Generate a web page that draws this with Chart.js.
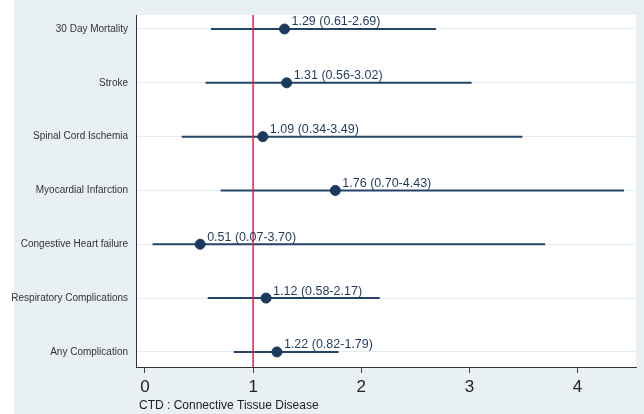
<!DOCTYPE html>
<html>
<head>
<meta charset="utf-8">
<script src="https://cdn.jsdelivr.net/npm/chart.js@4"></script>
<style>
  html, body { margin: 0; padding: 0; background: #ffffff; }
  #wrap { position: relative; width: 644px; height: 414px; }
</style>
</head>
<body>
<div id="wrap"><canvas id="forest"></canvas></div>
<script>
// Outcomes, odds ratios and 95% CI
const categories = [
    '30 Day Mortality',
    'Stroke',
    'Spinal Cord Ischemia',
    'Myocardial Infarction',
    'Congestive Heart failure',
    'Respiratory Complications',
    'Any Complication',
];
const oddsRatios = [1.29, 1.31, 1.09, 1.76, 0.51, 1.12, 1.22];
const lowerCI = [0.61, 0.56, 0.34, 0.70, 0.07, 0.58, 0.82];
const upperCI = [2.69, 3.02, 3.49, 4.43, 3.70, 2.17, 1.79];
const xTicks = [0, 1, 2, 3, 4];
const refValue = 1;
const footNote = 'CTD : Connective Tissue Disease';

const NAVY = '#234468';
const DOT = '#1c3a5e';
const RED = '#d9264f';
const PANEL = '#e8f0f4';
const FONT = '"Liberation Sans", Arial, sans-serif';

const Y_MIN = 0.74, Y_MAX = 7.28;

// CI whiskers, one little line per outcome
const ciSets = categories.map((c, i) => ({
    type: 'line',
    data: [{ x: lowerCI[i], y: i + 1 }, { x: upperCI[i], y: i + 1 }],
    borderColor: NAVY,
    borderWidth: 2,
    pointRadius: 0,
    order: 3,
}));

// red line at OR = 1, drawn over the whiskers
const refLine = {
    type: 'line',
    data: [{ x: refValue, y: Y_MIN }, { x: refValue, y: Y_MAX }],
    borderColor: RED,
    borderWidth: 1.5,
    pointRadius: 0,
    order: 2,
};

const points = {
    type: 'scatter',
    data: oddsRatios.map((v, i) => ({ x: v, y: i + 1 })),
    backgroundColor: DOT,
    borderColor: DOT,
    pointRadius: 5,
    order: 1,
};

const background = {
    id: 'background',
    beforeDraw(chart) {
        const { ctx, chartArea: a } = chart;
        ctx.save();
        ctx.fillStyle = PANEL;
        ctx.fillRect(14, 0, chart.width - 14, chart.height);
        ctx.fillStyle = '#ffffff';
        ctx.fillRect(a.left, a.top, a.right - a.left, a.bottom - a.top);
        ctx.restore();
    }
};

const valueLabels = {
    id: 'valueLabels',
    afterDatasetsDraw(chart) {
        const { ctx, scales: { x, y } } = chart;
        ctx.save();
        ctx.font = '12.5px ' + FONT;
        ctx.fillStyle = '#1f3a5c';
        ctx.textBaseline = 'middle';
        oddsRatios.forEach((v, i) => {
            const txt = v.toFixed(2) + ' (' + lowerCI[i].toFixed(2) + '-' + upperCI[i].toFixed(2) + ')';
            ctx.fillText(txt, x.getPixelForValue(v) + 7, y.getPixelForValue(i + 1) - 7);
        });
        ctx.restore();
    }
};

// footnote under the x axis
const footNotePlugin = {
    id: 'footNote',
    afterDraw(chart) {
        const { ctx, chartArea: a } = chart;
        ctx.save();
        ctx.font = '12px ' + FONT;
        ctx.fillStyle = '#222';
        ctx.textBaseline = 'middle';
        ctx.fillText(footNote, a.left + 3, 406);
        ctx.restore();
    }
};

new Chart(document.getElementById('forest'), {
    data: { datasets: [refLine, ...ciSets, points] },
    options: {
        responsive: true,
        maintainAspectRatio: false,
        animation: false,
        layout: { padding: { top: 15, right: 8, left: 0, bottom: 0 } },
        plugins: {
            legend: { display: false },
            tooltip: { enabled: false },
        },
        scales: {
            x: {
                type: 'linear',
                min: -0.083,
                max: 4.54,
                afterBuildTicks: s => { s.ticks = xTicks.map(v => ({ value: v })); },
                afterFit: s => { s.height = 47; },
                grid: { drawOnChartArea: false, drawTicks: true, tickLength: 6, color: '#444' },
                border: { color: '#333', width: 1 },
                ticks: {
                    font: { size: 17, family: FONT },
                    color: '#222',
                    padding: 4,
                },
            },
            y: {
                type: 'linear',
                reverse: true,
                min: Y_MIN,
                max: Y_MAX,
                afterBuildTicks: s => { s.ticks = categories.map((c, i) => ({ value: i + 1 })); },
                afterFit: s => { s.width = 136; },
                grid: { color: '#e4ecf0', drawTicks: false },
                border: { color: '#333', width: 1 },
                ticks: {
                    callback: v => categories[v - 1],
                    font: { size: 10, family: FONT },
                    color: '#333',
                    padding: 8,
                },
            },
        },
    },
    plugins: [background, valueLabels, footNotePlugin],
});
</script>
</body>
</html>
